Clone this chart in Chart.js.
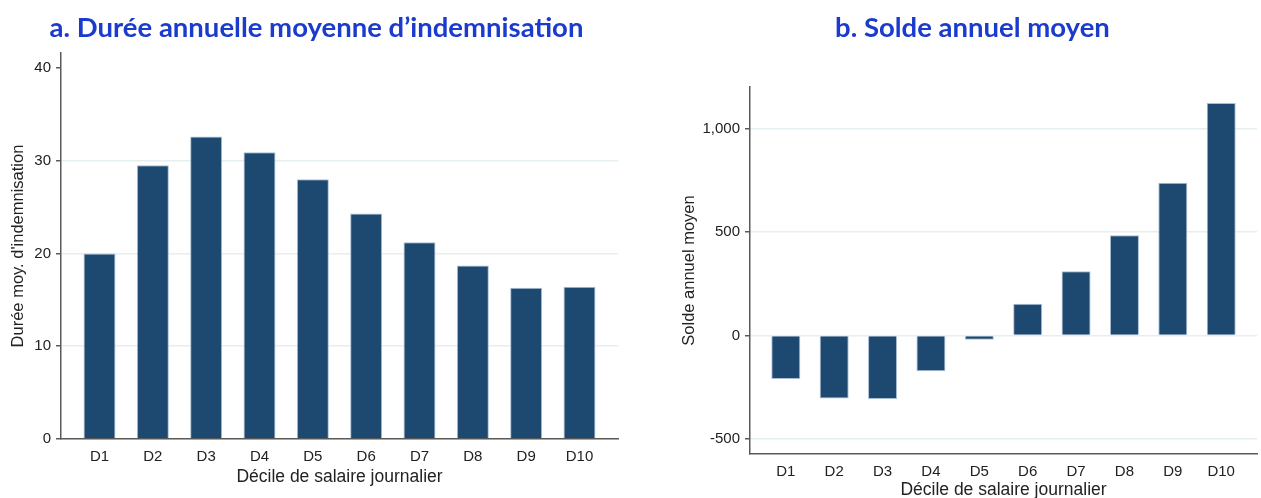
<!DOCTYPE html>
<html lang="fr">
<head>
<meta charset="utf-8">
<title>Durée et solde par décile</title>
<script src="https://cdn.jsdelivr.net/npm/chart.js@4.4.1/dist/chart.umd.min.js"></script>
<style>
  html, body { margin: 0; padding: 0; background: #fff; overflow: hidden; }
  body { width: 1261px; height: 498px; position: relative; }
  .panel { position: absolute; top: 0; height: 498px; }
  #panelA { left: 0; width: 633px; }
  #panelB { left: 672px; width: 601px; }
</style>
</head>
<body>
<div class="panel" id="panelA"><canvas id="dureeChart"></canvas></div>
<div class="panel" id="panelB"><canvas id="soldeChart"></canvas></div>

<script>
// ── Data ──
const deciles     = ['D1', 'D2', 'D3', 'D4', 'D5', 'D6', 'D7', 'D8', 'D9', 'D10'];
const dureeValues = [20.0, 29.5, 32.6, 30.9, 28.0, 24.3, 21.2, 18.7, 16.3, 16.4];
const soldeValues = [-211, -306, -308, -174, -21, 153, 310, 484, 739, 1124];
const dureeTicks  = [0, 10, 20, 30, 40];
const soldeTicks  = [-500, 0, 500, 1000];

const barFill    = '#1d4870';
const barEdge    = '#a9bfd3';
const axisColor  = '#5a5a5a';
const gridColor  = '#e5eef0';
const textColor  = '#222';
const titleColor = '#1a3bcc';
const sansFont   = "'Liberation Sans', Arial, sans-serif";

Chart.defaults.font.family = sansFont;
Chart.defaults.color = textColor;

function makeChart(canvasId, p) {
    const points = deciles.map((d, i) => ({ x: i + 1, y: p.values[i] }));

    return new Chart(document.getElementById(canvasId).getContext('2d'), {
        type: 'bar',
        data: {
            datasets: [{
                data: points,
                backgroundColor: barFill,
                borderColor: barEdge,
                borderWidth: 1,
                barPercentage: 0.6,
                categoryPercentage: 1
            }]
        },
        options: {
            responsive: true,
            maintainAspectRatio: false,
            animation: false,
            layout: { padding: 0 },
            plugins: {
                legend: { display: false },
                tooltip: { enabled: false },
                title: {
                    display: true,
                    text: p.title,
                    color: titleColor,
                    font: { family: "Lato, 'Open Sans', sans-serif", size: 27.5, weight: 'bold', lineHeight: 1.2 },
                    padding: { top: 11.5, bottom: p.titleGap }
                }
            },
            scales: {
                x: {
                    type: 'linear',
                    offset: false,
                    min: p.xMin,
                    max: p.xMax,
                    grid: { display: false, drawTicks: false, tickLength: 0, offset: false },
                    border: { display: true, color: axisColor, width: 1.5 },
                    afterBuildTicks: s => { s.ticks = deciles.map((d, i) => ({ value: i + 1 })); },
                    afterFit: s => { s.height = p.xAxisHeight; },
                    ticks: {
                        padding: 8.5,
                        font: { size: 15 },
                        color: textColor,
                        callback: v => deciles[v - 1]
                    },
                    title: {
                        display: true,
                        text: 'Décile de salaire journalier',
                        color: textColor,
                        font: { size: 17.5, lineHeight: 1.2 },
                        padding: { top: 0, bottom: p.xTitlePad }
                    }
                },
                y: {
                    min: p.yMin,
                    max: p.yMax,
                    afterBuildTicks: s => { s.ticks = p.ticks.map(v => ({ value: v })); },
                    afterFit: s => { s.width = p.yAxisWidth; },
                    grid: {
                        color: c => (c.tick && c.tick.value === p.noGridAt) ? 'rgba(0,0,0,0)' : gridColor,
                        tickColor: axisColor,
                        tickLength: 5,
                        lineWidth: 1.5
                    },
                    border: { display: true, color: axisColor, width: 1.5 },
                    ticks: {
                        padding: 5,
                        font: { size: 15 },
                        color: textColor,
                        callback: v => v.toLocaleString('en-US')
                    },
                    title: {
                        display: true,
                        text: p.yTitle,
                        color: textColor,
                        font: { size: 16.5, lineHeight: 1.2 },
                        padding: { top: p.yTitlePad, bottom: 0 }
                    }
                },
                // empty right margin (keeps the title centred on the whole panel)
                margin: {
                    type: 'linear',
                    position: 'right',
                    display: true,
                    grid: { display: false, drawTicks: false },
                    border: { display: false },
                    ticks: { display: false },
                    afterFit: s => { s.width = p.rightMargin; }
                }
            }
        }
    });
}

// ── a. Durée annuelle moyenne d'indemnisation ──
makeChart('dureeChart', {
    values: dureeValues,
    ticks: dureeTicks,
    title: 'a. Durée annuelle moyenne d’indemnisation',
    yTitle: "Durée moy. d'indemnisation",
    yMin: 0, yMax: 41.6,
    xMin: 0.278, xMax: 10.722,
    noGridAt: 40,
    rightMargin: 15,
    titleGap: 8.5,
    yAxisWidth: 61,
    xAxisHeight: 59,
    xTitlePad: 10.5,
    yTitlePad: 8.4
});

// ── b. Solde annuel moyen ──
makeChart('soldeChart', {
    values: soldeValues,
    ticks: soldeTicks,
    title: 'b. Solde annuel moyen',
    yTitle: 'Solde annuel moyen',
    yMin: -574, yMax: 1202,
    xMin: 0.26, xMax: 10.74,
    noGridAt: null,
    rightMargin: 16,
    titleGap: 42.5,
    yAxisWidth: 78,
    xAxisHeight: 44,
    xTitlePad: -2.5,
    yTitlePad: 7.1
});
</script>
</body>
</html>
